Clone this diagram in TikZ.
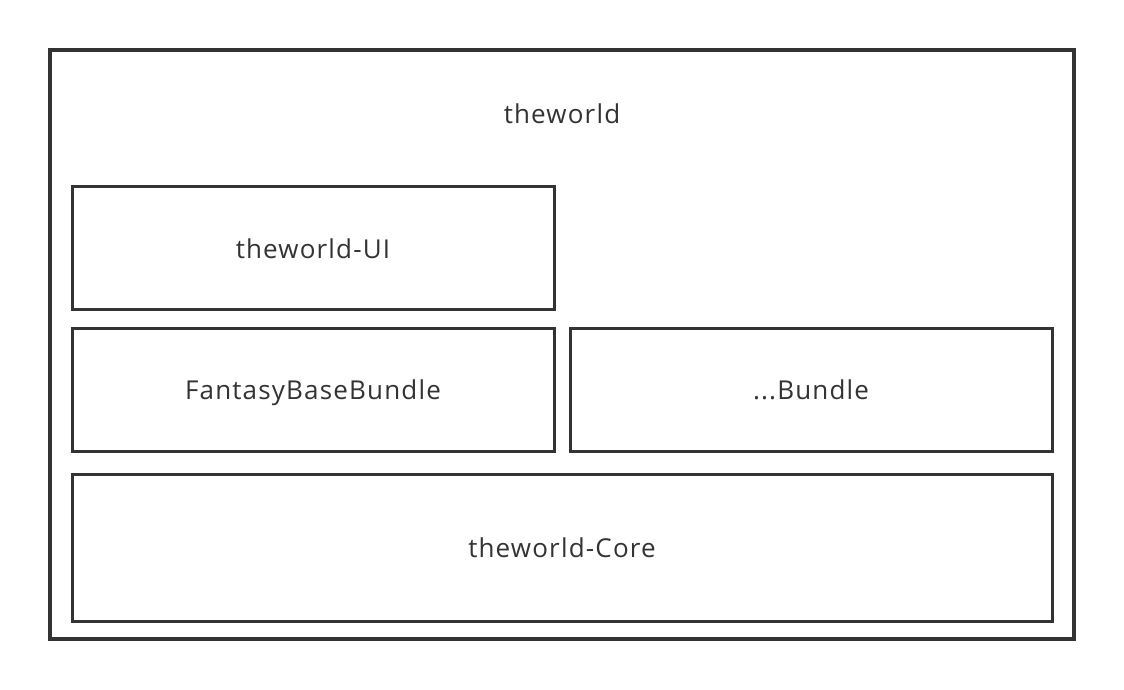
\documentclass[tikz,border=0pt]{standalone}
\usepackage{fontspec}
\setmainfont{Open Sans}[LetterSpace=4.5]
\definecolor{ink}{HTML}{333333}
\begin{document}
\begin{tikzpicture}[x=1pt,y=-1pt,
  box/.style={draw=ink,line width=3pt,inner sep=0pt},
  lbl/.style={text=ink,anchor=base,inner sep=0pt,font=\fontsize{26}{30}\selectfont}]
\useasboundingbox (0,0) rectangle (1124,690);
\fill[white] (0,0) rectangle (1124,690);
\draw[ink,line width=4pt] (50,50) rectangle (1074,639);
\node[lbl] (world) at (562,123.5) {theworld};
\draw[box] (72,186) rectangle (554,309);
\node[lbl] (ui) at (313,258) {theworld-UI};
\draw[box] (72,328) rectangle (554,451);
\node[lbl] (fbb) at (313,399.5) {FantasyBaseBundle};
\draw[box] (570,328) rectangle (1052,451);
\node[lbl] (bundle) at (811,399.5) {...Bundle};
\draw[box] (72,474) rectangle (1052,621);
\node[lbl] (core) at (562,557.5) {theworld-Core};
\end{tikzpicture}
\end{document}
